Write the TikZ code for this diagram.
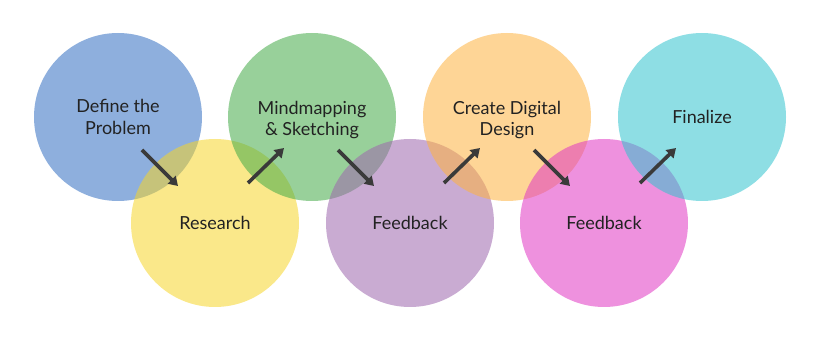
\documentclass[tikz,border=0pt]{standalone}
\usepackage{fontspec}
\setmainfont{Lato}
\usetikzlibrary{arrows.meta, positioning}
\definecolor{cblue}{RGB}{49,109,193}
\definecolor{cyellow}{RGB}{246,213,42}
\definecolor{cgreen}{RGB}{67,170,71}
\definecolor{cpurple}{RGB}{157,102,173}
\definecolor{corange}{RGB}{253,178,64}
\definecolor{cmagenta}{RGB}{224,55,195}
\definecolor{ccyan}{RGB}{49,195,206}
\definecolor{ctext}{RGB}{34,34,34}
\definecolor{carrow}{RGB}{58,58,58}
\begin{document}
\begin{tikzpicture}[
    x=1pt, y=-1pt,
    stage/.style={circle, minimum size=168pt, inner sep=0pt,
                  fill opacity=0.55, text opacity=1, text=ctext,
                  align=center, font=\fontsize{18}{21.5}\selectfont},
    lbl/.style={inner sep=0pt, text=ctext, align=center,
                font=\fontsize{18}{21.5}\selectfont},
    flow/.style={line width=3.6pt, carrow,
                 -{Triangle[length=9pt, width=11pt]}},
]
  \useasboundingbox (0,0) rectangle (820,339);

  % ---- Stages ----
  \node[stage, fill=cblue]    (def)  at (118, 117) {Define the\\Problem};
  \node[stage, fill=cyellow]  (res)  at (215, 223) {Research};
  \node[stage, fill=cgreen]   (mind) at (312, 117) {};
  \node[stage, fill=cpurple]  (fb1)  at (410, 223) {Feedback};
  \node[stage, fill=corange]  (dig)  at (507, 117) {};
  \node[stage, fill=cmagenta] (fb2)  at (604, 223) {Feedback};
  \node[stage, fill=ccyan]    (fin)  at (702, 117) {Finalize};

  % two-line labels sit a little low in their circles
  \node[lbl] (mindlbl) at ([yshift=-3pt]mind.center) {Mindmapping\\\& Sketching};
  \node[lbl] (diglbl)  at ([yshift=-3pt]dig.center)  {Create Digital\\Design};

  % ---- Arrows ----
  \coordinate (a1s) at (142, 150);  \coordinate (a1e) at (178, 186);
  \coordinate (a2s) at (248, 183);  \coordinate (a2e) at (284, 148);
  \coordinate (a3s) at (338, 150);  \coordinate (a3e) at (374, 186);
  \coordinate (a4s) at (444, 183);  \coordinate (a4e) at (480, 148);
  \coordinate (a5s) at (534, 150);  \coordinate (a5e) at (570, 186);
  \coordinate (a6s) at (640, 183);  \coordinate (a6e) at (676, 148);

  \foreach \i in {1,...,6} {
    \draw[flow] (a\i s) -- (a\i e);
  }
\end{tikzpicture}
\end{document}
